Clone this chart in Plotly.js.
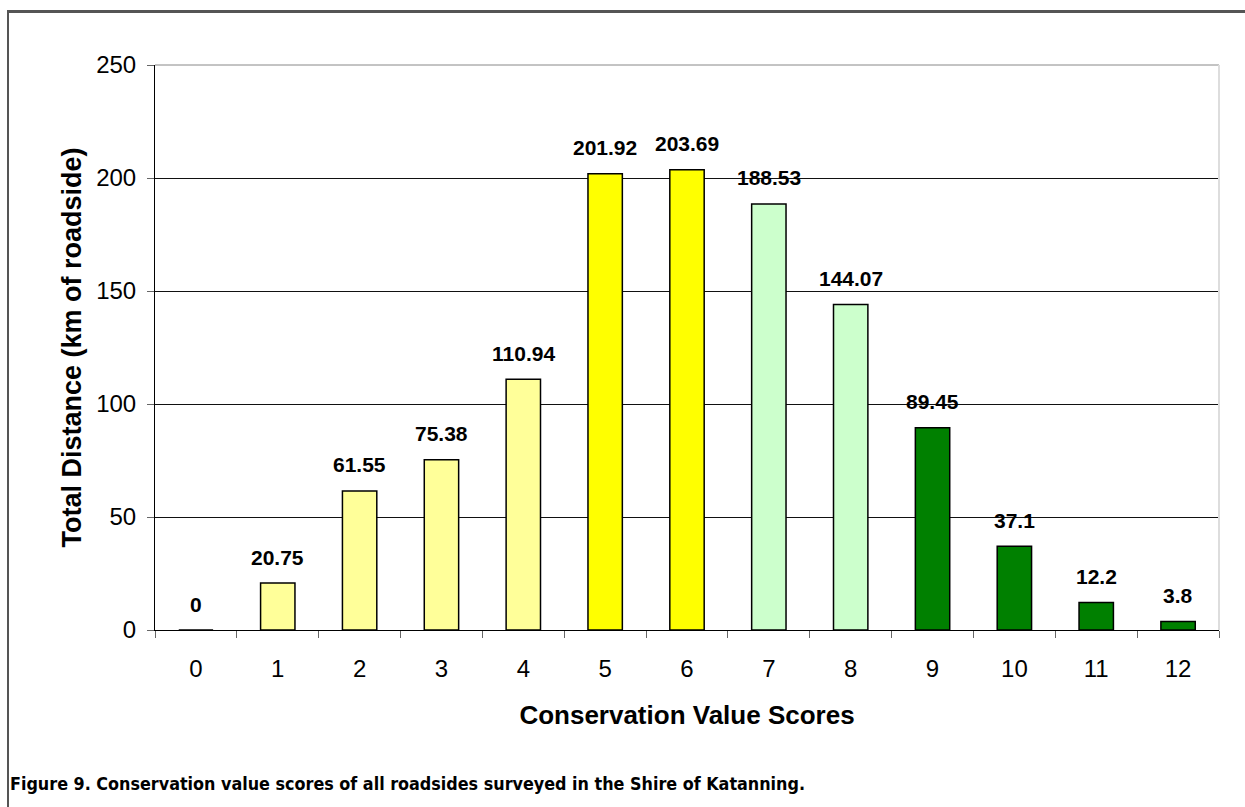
<!DOCTYPE html>
<html>
<head>
<meta charset="utf-8">
<script src="https://cdn.plot.ly/plotly-3.0.1.min.js"></script>
<style>
  html, body { margin: 0; padding: 0; background: #fff; }
  #frame { position: absolute; left: 7px; top: 10px; width: 1300px; height: 900px;
           border-left: 2px solid #555; border-top: 3px solid #555; box-sizing: border-box; pointer-events: none; z-index: 5; }
  #chart { position: absolute; left: 0; top: 0; width: 1245px; height: 807px; }
</style>
</head>
<body>
<div id="chart"></div>
<div id="frame"></div>
<script>
// Data
const categories = ['0','1','2','3','4','5','6','7','8','9','10','11','12'];
const distances = [0, 20.75, 61.55, 75.38, 110.94, 201.92, 203.69, 188.53, 144.07, 89.45, 37.1, 12.2, 3.8];
const labels = ['0','20.75','61.55','75.38','110.94','201.92','203.69','188.53','144.07','89.45','37.1','12.2','3.8'];
const barColors = ['#FFFF99','#FFFF99','#FFFF99','#FFFF99','#FFFF99','#FFFF00','#FFFF00','#CCFFCC','#CCFFCC','#008000','#008000','#008000','#008000'];
const yTicks = [0, 50, 100, 150, 200, 250];
const caption = 'Figure 9. Conservation value scores of all roadsides surveyed in the Shire of Katanning.';

const trace = {
  type: 'bar',
  x: categories,
  y: distances,
  marker: { color: barColors, line: { color: '#000', width: 1.5 } },
  hoverinfo: 'x+y'
};

const valueAnnotations = categories.map((c, i) => ({
  x: c, y: distances[i], xref: 'x', yref: 'y',
  text: '<b>' + labels[i] + '</b>',
  showarrow: false, yanchor: 'middle', yshift: 26,
  font: { family: 'Liberation Sans, Arial, sans-serif', size: 21, color: '#000' }
}));

const layout = {
  width: 1245, height: 807,
  margin: { l: 155, r: 26, t: 65, b: 177 },
  paper_bgcolor: '#fff', plot_bgcolor: '#fff',
  showlegend: false,
  bargap: 0.58,
  font: { family: 'Liberation Sans, Arial, sans-serif', color: '#000' },
  xaxis: {
    type: 'category',
    tickson: 'boundaries',
    ticks: 'outside', ticklen: 7, tickcolor: '#666', tickwidth: 1,
    ticklabelstandoff: 17,
    showline: true, linecolor: '#000', linewidth: 1,
    showgrid: false, zeroline: false,
    tickfont: { size: 24, color: '#000' },
    title: { text: '<b>Conservation Value Scores</b>', font: { size: 26, color: '#000' }, standoff: 25 }
  },
  yaxis: {
    range: [0, 250],
    tickvals: yTicks,
    ticks: 'outside', ticklen: 7, tickcolor: '#666', tickwidth: 1,
    ticklabelstandoff: 6,
    showline: true, linecolor: '#000', linewidth: 1,
    showgrid: true, gridcolor: '#111', gridwidth: 1,
    zeroline: false,
    tickfont: { size: 24, color: '#000' },
    title: { text: '<b>Total Distance (km of roadside)</b>', font: { size: 27, color: '#000' }, standoff: 6 }
  },
  shapes: [
    { type: 'line', xref: 'paper', yref: 'paper', x0: 0, x1: 1, y0: 1, y1: 1, line: { color: '#888', width: 1 }, layer: 'above' },
    { type: 'line', xref: 'paper', yref: 'paper', x0: 1, x1: 1, y0: 0, y1: 1, line: { color: '#ddd', width: 2 }, layer: 'above' }
  ],
  annotations: valueAnnotations.concat([{
    xref: 'paper', yref: 'paper', x: (8 - 155) / 1064, y: (630 - 783) / 565,
    xanchor: 'left', yanchor: 'middle', showarrow: false,
    text: '<b>' + caption + '</b>',
    font: { family: 'Liberation Sans Narrow, DejaVu Sans Condensed, Arial Narrow, sans-serif', size: 17.8, color: '#000' }
  }])
};

Plotly.newPlot('chart', [trace], layout, { displayModeBar: false, staticPlot: true });
</script>
</body>
</html>
